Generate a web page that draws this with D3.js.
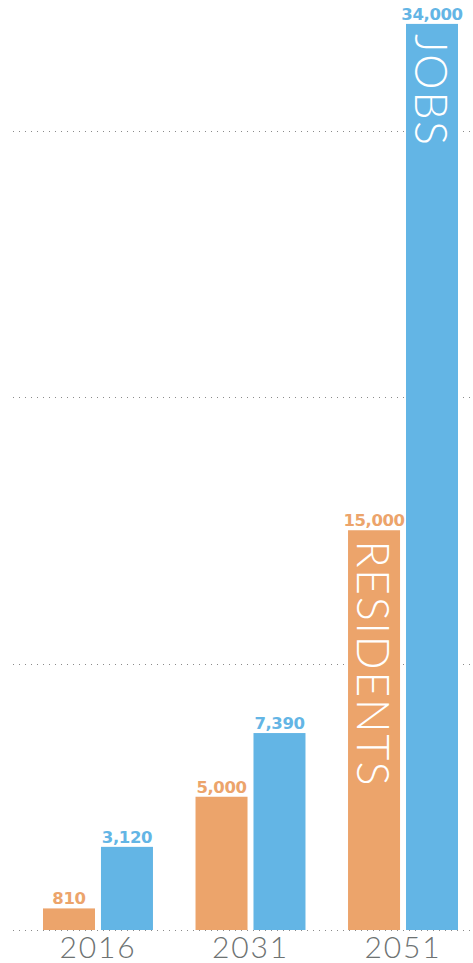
<!DOCTYPE html>
<html>
<head>
<meta charset="utf-8">
<script src="https://cdn.jsdelivr.net/npm/d3@7"></script>
<style>
  html, body { margin: 0; padding: 0; background: #fff; }
  svg { display: block; font-family: Lato, 'Open Sans', sans-serif; }
</style>
</head>
<body>
<div id="chart"></div>
<script>
const years = ['2016', '2031', '2051']
const seriesKeys = ['residents', 'jobs']
const seriesNames = { residents: 'RESIDENTS', jobs: 'JOBS' }
const residents = [810, 5000, 15000]
const jobs = [3120, 7390, 34000]
const gridTicks = [0, 10000, 20000, 30000]

const colors = { residents: '#eca46b', jobs: '#63b5e5' }

const width = 473
const height = 963
const margin = { top: 0, right: 15, bottom: 33, left: 43 }

const svg = d3.select('#chart')
  .append('svg')
  .attr('width', width)
  .attr('height', height)

const x0 = d3.scaleBand()
  .domain(years)
  .range([margin.left, width - margin.right])
  .paddingInner(0.279)
  .paddingOuter(0)

const x1 = d3.scaleBand()
  .domain(seriesKeys)
  .range([0, x0.bandwidth()])
  .paddingInner(0.103)

const y = d3.scaleLinear()
  .domain([0, 10000])
  .range([height - margin.bottom, height - margin.bottom - 266.5])

// grid
svg.append('g')
  .attr('class', 'grid')
  .selectAll('line')
  .data(gridTicks)
  .join('line')
  .attr('x1', 13)
  .attr('x2', width)
  .attr('y1', d => Math.round(y(d)) + 0.5)
  .attr('y2', d => Math.round(y(d)) + 0.5)
  .attr('stroke', '#8a8a8a')
  .attr('stroke-width', 1)
  .attr('stroke-dasharray', '1,5')

const data = years.map((year, i) => ({
  year,
  values: [
    { key: 'residents', value: residents[i], last: i === years.length - 1 },
    { key: 'jobs', value: jobs[i], last: i === years.length - 1 }
  ]
}))

const groups = svg.append('g')
  .attr('class', 'bars')
  .selectAll('g')
  .data(data)
  .join('g')
  .attr('transform', d => `translate(${x0(d.year)},0)`)

groups.selectAll('rect')
  .data(d => d.values)
  .join('rect')
  .attr('x', d => x1(d.key))
  .attr('y', d => y(d.value))
  .attr('width', x1.bandwidth())
  .attr('height', d => y(0) - y(d.value))
  .attr('fill', d => colors[d.key])

// value labels
groups.selectAll('text.value')
  .data(d => d.values)
  .join('text')
  .attr('class', 'value')
  .attr('x', d => x1(d.key) + x1.bandwidth() / 2)
  .attr('y', d => y(d.value) - 4)
  .attr('text-anchor', 'middle')
  .attr('fill', d => colors[d.key])
  .attr('font-family', "'DejaVu Sans', sans-serif")
  .attr('font-size', 16.5)
  .attr('font-weight', 700)
  .attr('letter-spacing', -0.4)
  .text(d => d3.format(',')(d.value))

// series names inside the tallest bars
groups.selectAll('text.name')
  .data(d => d.values.filter(v => v.last))
  .join('text')
  .attr('class', 'name')
  .attr('transform', d => `translate(${x1(d.key) + 9},${y(d.value) + 10}) rotate(90)`)
  .attr('fill', '#fff')
  .attr('font-size', 45)
  .attr('font-weight', 300)
  .attr('letter-spacing', 1.5)
  .text(d => seriesNames[d.key])

// year labels
svg.append('g')
  .attr('class', 'years')
  .selectAll('text')
  .data(years)
  .join('text')
  .attr('x', d => x0(d) + x0.bandwidth() / 2)
  .attr('y', 958)
  .attr('text-anchor', 'middle')
  .attr('fill', '#6d7272')
  .attr('font-size', 30)
  .attr('font-weight', 300)
  .attr('letter-spacing', 1.8)
  .text(d => d)
</script>
</body>
</html>
